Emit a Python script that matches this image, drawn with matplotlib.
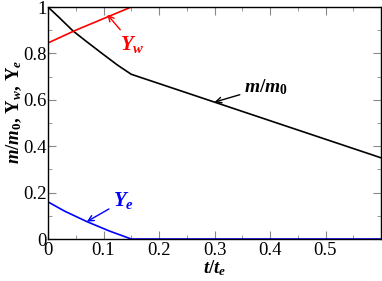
import matplotlib
matplotlib.use("Agg")
import matplotlib.pyplot as plt
from matplotlib.ticker import MultipleLocator

t_m = [0.0, 0.02, 0.045, 0.07, 0.1, 0.125, 0.15, 0.2, 0.3, 0.4, 0.5, 0.6]
m_m0 = [1.0, 0.955, 0.897, 0.85, 0.795, 0.75, 0.71, 0.67, 0.59, 0.51, 0.43, 0.35]

t_w = [0.0, 0.05, 0.1, 0.15, 0.6]
Y_w = [0.845, 0.9, 0.95, 1.0, 1.0]

t_e = [0.0, 0.03, 0.07, 0.11, 0.15, 0.6]
Y_e = [0.16, 0.12, 0.075, 0.035, 0.0, 0.0]

xticks = [0, 0.1, 0.2, 0.3, 0.4, 0.5]
xticklabels = ["0", "0.1", "0.2", "0.3", "0.4", "0.5"]
yticks = [0, 0.2, 0.4, 0.6, 0.8, 1.0]
yticklabels = ["0", "0.2", "0.4", "0.6", "0.8", "1"]

plt.rcParams['font.family'] = ['Liberation Serif', 'DejaVu Serif']
plt.rcParams['mathtext.fontset'] = 'custom'
plt.rcParams['mathtext.it'] = 'Liberation Serif:style=italic:weight=bold'
plt.rcParams['mathtext.rm'] = 'Liberation Serif:weight=bold'
plt.rcParams['mathtext.bf'] = 'Liberation Serif:weight=bold'
plt.rcParams['mathtext.default'] = 'it'

fig = plt.figure(figsize=(3.82, 2.81), dpi=100)
ax = fig.add_axes([48/382, 1-239/281, (381-48)/382, (239-7)/281])

ax.plot(t_m, m_m0, color='black', lw=1.2)
ax.plot(t_w, Y_w, color='red', lw=1.2)
ax.plot(t_e, Y_e, color='blue', lw=1.2)

ax.set_xlim(0, 0.6)
ax.set_ylim(0, 1)
ax.set_xticks(xticks)
ax.set_xticklabels(xticklabels)
ax.set_yticks(yticks)
ax.set_yticklabels(yticklabels)
ax.xaxis.set_minor_locator(MultipleLocator(0.05))
ax.yaxis.set_minor_locator(MultipleLocator(0.1))
ax.tick_params(which='both', direction='in', top=True, right=True, labelsize=13.5, color='#888888')
ax.tick_params(which='major', length=6)
ax.tick_params(which='minor', length=3)
ax.tick_params(axis='x', pad=2)
ax.tick_params(axis='y', pad=1)
for s in ax.spines.values():
    s.set_linewidth(1.0)

ax.set_xlabel(r'$t/t_e$', fontsize=13.5, labelpad=0)
ax.set_ylabel(r'$m/m_0$, $\mathbf{Y}_w$, $\mathbf{Y}_e$', fontsize=13.5, fontweight='bold')
ax.yaxis.set_label_coords(-0.072, 0.55)

ap = dict(arrowstyle='->', lw=1.0, mutation_scale=10, shrinkA=1, shrinkB=0)
ax.annotate(r'$Y_w$', xy=(0.107, 0.967), xytext=(0.13, 0.84), color='red', fontsize=15,
            arrowprops=dict(color='red', **ap), ha='left', va='center')
ax.annotate(r'$m/m_0$', xy=(0.3, 0.59), xytext=(0.353, 0.655), color='black', fontsize=14,
            arrowprops=dict(color='black', **ap), ha='left', va='center')
ax.annotate(r'$Y_e$', xy=(0.07, 0.075), xytext=(0.117, 0.165), color='blue', fontsize=15,
            arrowprops=dict(color='blue', **ap), ha='left', va='center')

fig.savefig('out.png', dpi=100)
